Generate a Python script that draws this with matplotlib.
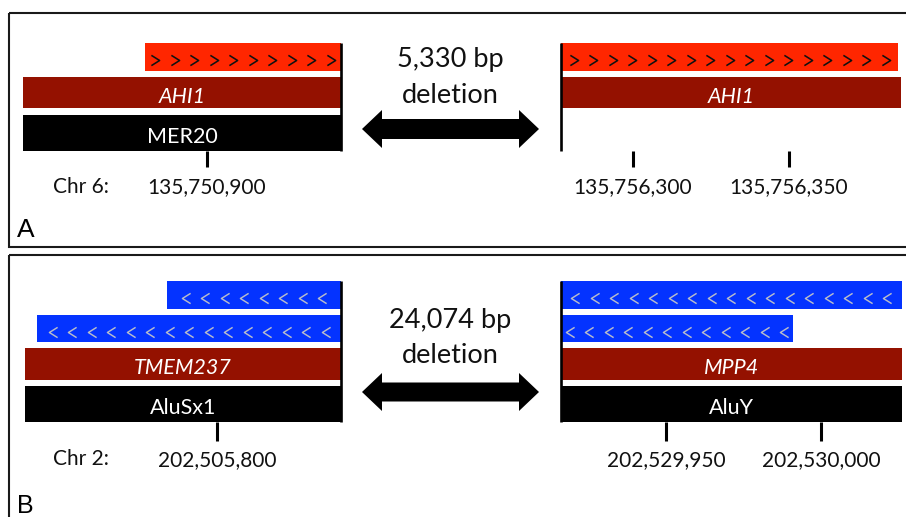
import numpy as np
import matplotlib
matplotlib.use("Agg")
import matplotlib.pyplot as plt
from matplotlib.patches import Rectangle, Polygon
from matplotlib.path import Path
from matplotlib.ticker import FuncFormatter

# ---------------- data ----------------
# Panel A: Chr 6 deletion inside AHI1 / MER20
a_chrom = "Chr 6:"
a_deletion_bp = 5330
a_left_ticks = [135750900]
a_right_ticks = [135756300, 135756350]
a_left_break = 135750943
a_right_break = 135756277
a_left_kinds = ["fwd", "gene", "repeat"]
a_left_names = ["", "AHI1", "MER20"]
a_left_starts = [135750880, 135750841, 135750841]
a_left_ends = [135750943, 135750943, 135750943]
a_left_chevrons = [10, 0, 0]
a_right_kinds = ["fwd", "gene"]
a_right_names = ["", "AHI1"]
a_right_starts = [135756277, 135756277]
a_right_ends = [135756385, 135756386]
a_right_chevrons = [17, 0]

# Panel B: Chr 2 deletion between TMEM237 / AluSx1 and MPP4 / AluY
b_chrom = "Chr 2:"
b_deletion_bp = 24074
b_left_ticks = [202505800]
b_right_ticks = [202529950, 202530000]
b_left_break = 202505840
b_right_break = 202529916
b_left_kinds = ["rev", "rev", "gene", "repeat"]
b_left_names = ["", "", "TMEM237", "AluSx1"]
b_left_starts = [202505784, 202505742, 202505738, 202505738]
b_left_ends = [202505840, 202505840, 202505840, 202505840]
b_left_chevrons = [8, 15, 0, 0]
b_right_kinds = ["rev", "rev", "gene", "repeat"]
b_right_names = ["", "", "MPP4", "AluY"]
b_right_starts = [202529916, 202529916, 202529916, 202529916]
b_right_ends = [202530026, 202529991, 202530026, 202530026]
b_right_chevrons = [17, 12, 0, 0]

# ---------------- styles ----------------
W, H = 906, 517
FONT = "Lato"

# open chevron glyphs used as strand markers
FWD_MARK = Path([(-0.4, 0.5), (0.4, 0.0), (-0.4, -0.5)],
                [Path.MOVETO, Path.LINETO, Path.LINETO])
REV_MARK = Path([(0.4, 0.5), (-0.4, 0.0), (0.4, -0.5)],
                [Path.MOVETO, Path.LINETO, Path.LINETO])

STYLE = {
    "fwd": dict(color="#FF2600", mark=FWD_MARK, mark_color="#111111", mark_w=1.15),
    "rev": dict(color="#0433FF", mark=REV_MARK, mark_color="#B8BCCB", mark_w=1.05),
    "gene": dict(color="#941100", text_color="white", text_style="italic"),
    "repeat": dict(color="#000000", text_color="white", text_style="normal"),
}
CHEVRON_STEP_PX = 19.5

fig = plt.figure(figsize=(W / 100, H / 100), dpi=100)
fig.patch.set_facecolor("white")

bg = fig.add_axes([0, 0, 1, 1])
bg.set_xlim(0, W)
bg.set_ylim(H, 0)
bg.axis("off")


def px_axes(x0, x1, y0, y1):
    """Axes occupying the pixel box [x0, x1] x [y0, y1] (y from the top)."""
    return fig.add_axes([x0 / W, 1 - y1 / H, (x1 - x0) / W, (y1 - y0) / H])


def draw_half(box, anchor_px, anchor_bp, scale, rows_top, rows_bot,
              kinds, names, starts, ends, chevrons, brk, ticks, tick_len):
    x0, x1, y0, y1 = box
    ax = px_axes(x0, x1, y0, y1)
    ax.set_xlim(anchor_bp + (x0 - anchor_px) / scale,
                anchor_bp + (x1 - anchor_px) / scale)
    ax.set_ylim(y1, y0)
    ax.patch.set_alpha(0)
    for s in ax.spines.values():
        s.set_visible(False)
    ax.set_yticks([])
    ax.set_xticks(ticks)
    ax.xaxis.set_major_formatter(FuncFormatter(lambda v, p: f"{int(round(v)):,}"))
    ax.tick_params(axis="x", direction="out", length=tick_len, width=2.2,
                   color="black", pad=6.5, labelsize=15, labelcolor="#111111")
    for lab in ax.get_xticklabels():
        lab.set_fontfamily(FONT)

    for i, kind in enumerate(kinds):
        st = STYLE[kind]
        top, bot = rows_top[i], rows_bot[i]
        yc = (top + bot) / 2
        ax.barh(yc, ends[i] - starts[i], left=starts[i], height=bot - top,
                color=st["color"], linewidth=0, zorder=2)
        xc = (starts[i] + ends[i]) / 2
        n = chevrons[i]
        if n:
            step = CHEVRON_STEP_PX / scale
            xs = xc + (np.arange(n) - (n - 1) / 2) * step
            ax.plot(xs, np.full(n, yc + 3), linestyle="none",
                    marker=st["mark"], markersize=7.4, fillstyle="none",
                    markeredgecolor=st["mark_color"],
                    markeredgewidth=st["mark_w"], zorder=3)
        if names[i]:
            ax.text(xc, yc + 10.5, names[i], ha="center", va="baseline",
                    fontsize=15.5, color=st["text_color"],
                    style=st["text_style"], family=FONT, zorder=3)

    ax.plot([brk, brk], [rows_top[0], y1], color="black", lw=1.9,
            solid_capstyle="butt", zorder=4, clip_on=False)
    return ax


def double_arrow(x0, x1, yc, shaft, head_w, head_l):
    pts = [
        (x0, yc),
        (x0 + head_l, yc - head_w / 2),
        (x0 + head_l, yc - shaft / 2),
        (x1 - head_l, yc - shaft / 2),
        (x1 - head_l, yc - head_w / 2),
        (x1, yc),
        (x1 - head_l, yc + head_w / 2),
        (x1 - head_l, yc + shaft / 2),
        (x0 + head_l, yc + shaft / 2),
        (x0 + head_l, yc + head_w / 2),
    ]
    bg.add_patch(Polygon(pts, closed=True, facecolor="black", edgecolor="none"))


# ---------------- panel frames ----------------
bg.add_patch(Rectangle((9, 13), 930, 234, fill=False, edgecolor="#1a1a1a", lw=1.5))
bg.add_patch(Rectangle((9, 255), 930, 300, fill=False, edgecolor="#1a1a1a", lw=1.5))
bg.text(17, 237, "A", fontsize=19, family="Liberation Sans", va="baseline", ha="left")
bg.text(17, 513, "B", fontsize=18, family="Liberation Sans", va="baseline", ha="left")

# ---------------- panel A ----------------
A_SCALE = 3.12
a_top = [43, 77, 115]
a_bot = [71, 108, 151]
draw_half((15, 350, 43, 151.5), 207, a_left_ticks[0], A_SCALE, a_top, a_bot,
          a_left_kinds, a_left_names, a_left_starts, a_left_ends,
          a_left_chevrons, a_left_break, a_left_ticks, 11.8)
draw_half((550, 906, 43, 151.5), 633, a_right_ticks[0], A_SCALE, a_top, a_bot,
          a_right_kinds, a_right_names, a_right_starts, a_right_ends,
          a_right_chevrons, a_right_break, a_right_ticks, 11.8)
bg.text(53, 193, a_chrom, fontsize=15, family=FONT, va="baseline", ha="left",
        color="#111111")
bg.text(450, 67, f"{a_deletion_bp:,} bp", fontsize=19.5, family=FONT,
        ha="center", va="baseline", color="#111111")
bg.text(450, 103, "deletion", fontsize=19.5, family=FONT,
        ha="center", va="baseline", color="#111111")
double_arrow(362, 539, 129, 20, 38, 20)

# ---------------- panel B ----------------
B_SCALE = 3.1
b_top = [281, 315, 348, 386]
b_bot = [309, 342, 380, 422]
draw_half((15, 350, 281, 422), 217, b_left_ticks[0], B_SCALE, b_top, b_bot,
          b_left_kinds, b_left_names, b_left_starts, b_left_ends,
          b_left_chevrons, b_left_break, b_left_ticks, 13.7)
draw_half((550, 906, 281, 422), 666, b_right_ticks[0], B_SCALE, b_top, b_bot,
          b_right_kinds, b_right_names, b_right_starts, b_right_ends,
          b_right_chevrons, b_right_break, b_right_ticks, 13.7)
bg.text(53, 465, b_chrom, fontsize=15, family=FONT, va="baseline", ha="left",
        color="#111111")
bg.text(450, 328, f"{b_deletion_bp:,} bp", fontsize=19.5, family=FONT,
        ha="center", va="baseline", color="#111111")
bg.text(450, 363, "deletion", fontsize=19.5, family=FONT,
        ha="center", va="baseline", color="#111111")
double_arrow(362, 539, 392, 19, 38, 20)

fig.savefig("out.png", dpi=100)
